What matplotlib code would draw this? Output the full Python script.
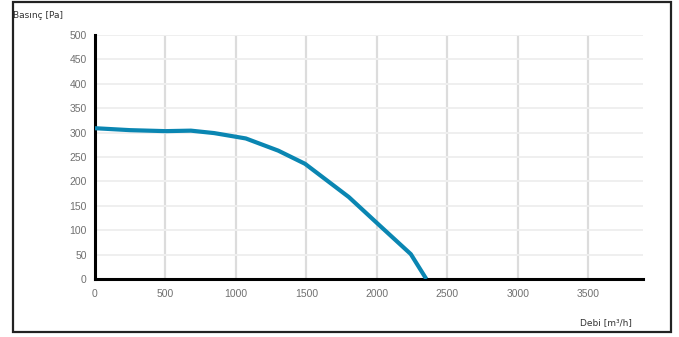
import numpy as np
import matplotlib.pyplot as plt
from matplotlib.patches import Rectangle

# fan curve
flow = [0, 250, 500, 680, 845, 1070, 1300, 1490, 1645, 1800, 2025, 2240, 2350]
pressure = [309, 305, 303, 304, 299, 288, 263, 236, 202, 168, 108, 51, 0]
x_ticks = [0, 500, 1000, 1500, 2000, 2500, 3000, 3500]
y_ticks = [0, 50, 100, 150, 200, 250, 300, 350, 400, 450, 500]

fig = plt.figure(figsize=(6.79, 3.37), dpi=100)
# outer frame
fig.patches.append(Rectangle((12.5 / 679, 5 / 337), 658 / 679, 330 / 337,
                             transform=fig.transFigure, fill=False,
                             edgecolor='#222222', linewidth=1.6))

ax = fig.add_axes([95 / 679, 58 / 337, 548 / 679, 244 / 337])
ax.plot(flow, pressure, color='#0A86B2', linewidth=3.0, solid_capstyle='butt',
        zorder=3)

ax.set_xlim(0, 3887)
ax.set_ylim(0, 500)
ax.set_xticks(x_ticks)
ax.set_yticks(y_ticks)
ax.grid(axis='x', color='#dcdcdc', linewidth=1.6)
ax.grid(axis='y', color='#efefef', linewidth=1.4)
ax.set_axisbelow(True)
for s in ['top', 'right']:
    ax.spines[s].set_visible(False)
ax.spines['left'].set_linewidth(2.2)
ax.spines['bottom'].set_linewidth(2.2)
ax.spines['left'].set_color('black')
ax.spines['bottom'].set_color('black')
ax.tick_params(length=0, labelsize=7.5, labelcolor='#707070', pad=6)
ax.tick_params(axis='x', pad=7)
for lab in ax.get_xticklabels() + ax.get_yticklabels():
    lab.set_fontfamily('Liberation Sans')

fig.text(13 / 679, 1 - 16 / 337, 'Basınç [Pa]', fontsize=6.5, color='#333333',
         va='center', ha='left')
fig.text(632 / 679, 1 - 323 / 337, 'Debi [m³/h]', fontsize=6.5, color='#333333',
         va='center', ha='right')

fig.savefig('out.png', dpi=100)
